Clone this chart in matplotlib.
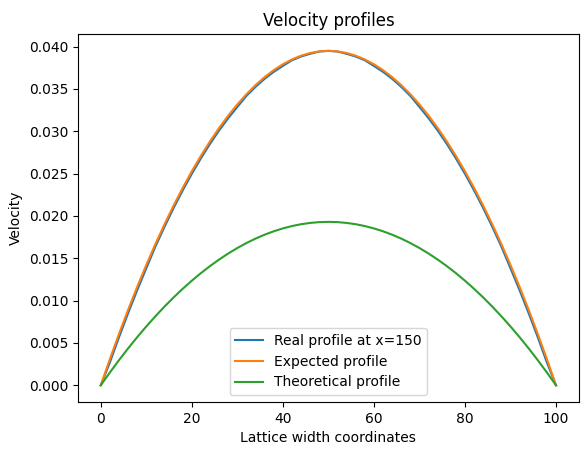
import matplotlib
matplotlib.use("Agg")
import matplotlib.pyplot as plt

x = [0, 2, 4, 6, 8, 10, 12, 14, 16, 18, 20, 22, 24, 26, 28, 30, 32, 34, 36, 38, 40, 42, 44, 46, 48, 50,
     52, 54, 56, 58, 60, 62, 64, 66, 68, 70, 72, 74, 76, 78, 80, 82, 84, 86, 88, 90, 92, 94, 96, 98, 100]
real = [0.0, 0.00270, 0.00567, 0.00851, 0.01123, 0.01382, 0.01639, 0.01872, 0.02094, 0.02302, 0.02498,
        0.02681, 0.02852, 0.03010, 0.03155, 0.03288, 0.03418, 0.03525, 0.03620, 0.03702, 0.03772, 0.03839,
        0.03883, 0.03915, 0.03942, 0.03950,
        0.03942, 0.03915, 0.03883, 0.03839, 0.03772, 0.03702, 0.03620, 0.03525, 0.03418, 0.03288, 0.03155,
        0.03010, 0.02852, 0.02681, 0.02498, 0.02302, 0.02094, 0.01872, 0.01639, 0.01382, 0.01123, 0.00851,
        0.00567, 0.00270, 0.0]
expected = [0.0, 0.003097, 0.006067, 0.008911, 0.011629, 0.014220, 0.016685, 0.019023, 0.021235, 0.023321,
            0.025280, 0.027113, 0.028819, 0.030399, 0.031853, 0.033180, 0.034381, 0.035455, 0.036403,
            0.037225, 0.037920, 0.038489, 0.038931, 0.039247, 0.039437, 0.039500,
            0.039437, 0.039247, 0.038931, 0.038489, 0.037920, 0.037225, 0.036403, 0.035455, 0.034381,
            0.033180, 0.031853, 0.030399, 0.028819, 0.027113, 0.025280, 0.023321, 0.021235, 0.019023,
            0.016685, 0.014220, 0.011629, 0.008911, 0.006067, 0.003097, 0.0]
theoretical = [0.0, 0.001513, 0.002964, 0.004354, 0.005682, 0.006948, 0.008152, 0.009295, 0.010376,
               0.011395, 0.012352, 0.013248, 0.014081, 0.014853, 0.015564, 0.016212, 0.016799, 0.017324,
               0.017787, 0.018188, 0.018528, 0.018806, 0.019022, 0.019176, 0.019269, 0.019300,
               0.019269, 0.019176, 0.019022, 0.018806, 0.018528, 0.018188, 0.017787, 0.017324, 0.016799,
               0.016212, 0.015564, 0.014853, 0.014081, 0.013248, 0.012352, 0.011395, 0.010376, 0.009295,
               0.008152, 0.006948, 0.005682, 0.004354, 0.002964, 0.001513, 0.0]

fig = plt.figure(figsize=(5.84, 4.55), dpi=100)
ax = fig.add_axes([0.1336, 0.1165, 0.8574, 0.8085])
ax.plot(x, real, label="Real profile at x=150")
ax.plot(x, expected, label="Expected profile")
ax.plot(x, theoretical, label="Theoretical profile")
ax.set_title("Velocity profiles")
ax.set_xlabel("Lattice width coordinates")
ax.set_ylabel("Velocity")
ax.legend(loc="lower center")
fig.savefig("out.png", dpi=100)
